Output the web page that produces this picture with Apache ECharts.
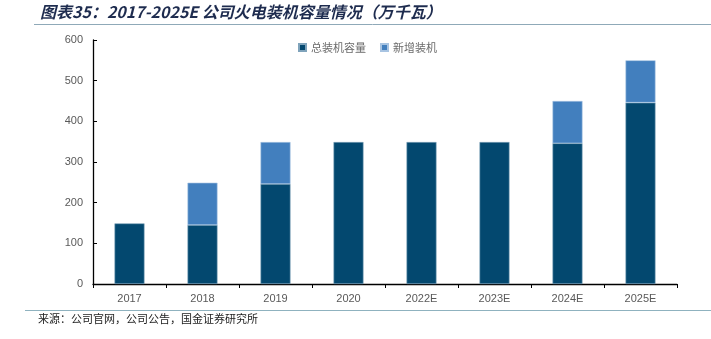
<!DOCTYPE html>
<html><head><meta charset="utf-8">
<script src="https://cdn.jsdelivr.net/npm/echarts@6/dist/echarts.min.js"></script>
<style>html,body{margin:0;padding:0;background:#fff}#c{width:711px;height:339px}</style>
</head><body><div id="c"></div>
<script>
const categories = ['2017','2018','2019','2020','2022E','2023E','2024E','2025E'];
const totalCapacity = [149,145,246,349,349,349,346,446];
const newCapacity = [0,104,103,0,0,0,104,104];
const yTicks = [0,100,200,300,400,500,600];
const seriesNames = ['总装机容量','新增装机'];
const titleText = '图表35：2017-2025E 公司火电装机容量情况（万千瓦）';
const sourceText = '来源：公司官网，公司公告，国金证券研究所';

const chart = echarts.init(document.getElementById('c'));
const font = '"Liberation Sans", Arial, sans-serif';
chart.setOption({
  animation:false,
  backgroundColor:'#fff',
  grid:{left:93,right:34,top:40,bottom:55},
  legend:{
    top:37,left:293,itemWidth:7,itemHeight:7,itemGap:14,
    icon:'rect',
    textStyle:{color:'#6a6a6a',fontSize:11,fontFamily:'"Noto Sans CJK SC", sans-serif'},
    data:seriesNames
  },
  xAxis:{
    type:'category',data:categories,
    axisLine:{lineStyle:{color:'#000',width:1.3}},
    axisTick:{show:true,length:4,alignWithLabel:false,lineStyle:{color:'#000'}},
    axisLabel:{color:'#595959',fontSize:11,fontFamily:font,margin:9}
  },
  yAxis:{
    type:'value',min:yTicks[0],max:yTicks[yTicks.length-1],interval:100,
    axisLine:{show:true,lineStyle:{color:'#000',width:1.3}},
    axisTick:{show:true,inside:true,length:4,lineStyle:{color:'#000'}},
    splitLine:{show:false},
    axisLabel:{color:'#595959',fontSize:11,fontFamily:font,margin:10}
  },
  series:[
    {name:seriesNames[0],type:'bar',stack:'a',data:totalCapacity,barWidth:30,
     itemStyle:{color:'#03486f',borderColor:'#7fa3bb',borderWidth:0.6}},
    {name:seriesNames[1],type:'bar',stack:'a',data:newCapacity.map(v=>v===0?null:v),barWidth:30,
     itemStyle:{color:'#427fbe',borderColor:'#a8c4e2',borderWidth:0.6}}
  ],
  graphic:[
    {type:'text',left:40,top:4,style:{text:titleText,fill:'#1e2c4f',font:'italic bold 16px "Noto Sans CJK SC", sans-serif'}},
    {type:'line',shape:{x1:34,y1:24.5,x2:711,y2:24.5},style:{stroke:'#8fa9b8',lineWidth:1}},
    {type:'line',shape:{x1:25,y1:310.5,x2:711,y2:310.5},style:{stroke:'#8fb2bf',lineWidth:1}},
    {type:'text',left:38,top:313,style:{text:sourceText,fill:'#222',font:'11px "Noto Sans CJK SC", sans-serif'}}
  ]
});
</script></body></html>
